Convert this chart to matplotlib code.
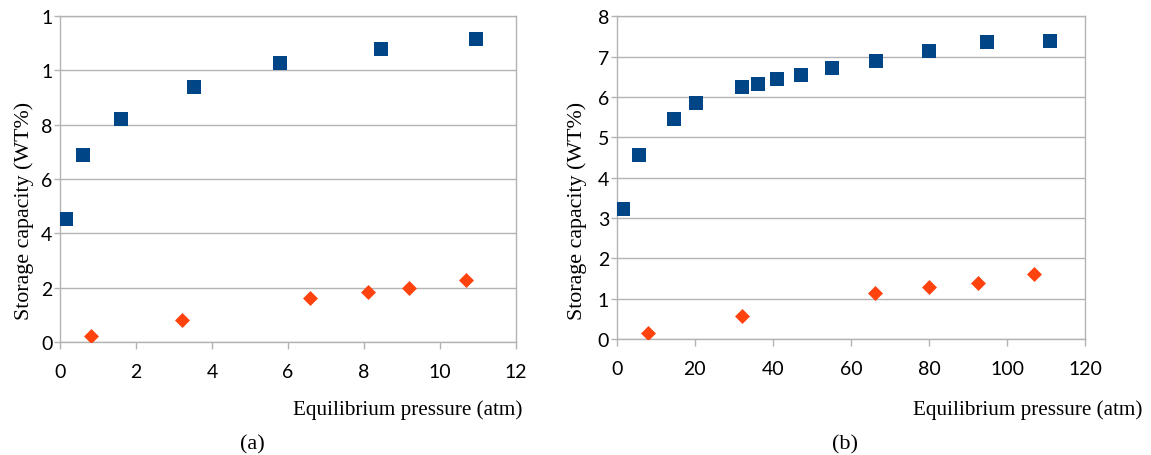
import matplotlib
matplotlib.use("Agg")
import matplotlib.pyplot as plt

# (a) storage capacity vs equilibrium pressure
a_blue_x = [0.16, 0.61, 1.61, 3.53, 5.80, 8.45, 10.96]
a_blue_y = [4.53, 6.88, 8.21, 9.40, 10.27, 10.78, 11.16]
a_red_x = [0.81, 3.22, 6.59, 8.11, 9.18, 10.68]
a_red_y = [0.22, 0.82, 1.63, 1.83, 1.97, 2.29]
a_xticks = [0, 2, 4, 6, 8, 10, 12]
a_yticks = [0, 2, 4, 6, 8, 10, 12]
a_ylabels = ["0", "2", "4", "6", "8", "1", "1"]   # truncated as in the original

# (b)
b_blue_x = [1.5, 5.6, 14.6, 20.4, 32.2, 36.3, 41.0, 47.1, 55.1, 66.5, 80.0, 94.8, 110.9]
b_blue_y = [3.22, 4.56, 5.45, 5.84, 6.26, 6.31, 6.45, 6.54, 6.72, 6.90, 7.15, 7.37, 7.40]
b_red_x = [8.0, 32.0, 66.2, 80.1, 92.4, 106.9]
b_red_y = [0.16, 0.58, 1.14, 1.29, 1.38, 1.61]
b_xticks = [0, 20, 40, 60, 80, 100, 120]
b_yticks = [0, 1, 2, 3, 4, 5, 6, 7, 8]

BLUE = "#004586"
RED = "#ff420e"
GRID = "#b3b3b3"
TICKFONT = "Lato"
SERIF = "Liberation Serif"

fig = plt.figure(figsize=(11.51, 4.56), dpi=100)


def style_axes(ax, xticks, yticks, ylabels=None):
    ax.set_xlim(xticks[0], xticks[-1])
    ax.set_ylim(yticks[0], yticks[-1])
    ax.set_xticks(xticks)
    ax.set_yticks(yticks)
    if ylabels is not None:
        ax.set_yticklabels(ylabels)
    ax.grid(axis="y", color=GRID, linewidth=1.0)
    ax.set_axisbelow(True)
    for s in ax.spines.values():
        s.set_color(GRID)
        s.set_linewidth(1.0)
    ax.tick_params(direction="out", width=1.0, color=GRID, labelsize=14)
    ax.tick_params(axis="x", length=5, pad=10)
    ax.tick_params(axis="y", length=4, pad=1.5)
    for lab in ax.get_xticklabels() + ax.get_yticklabels():
        lab.set_fontfamily(TICKFONT)


def draw(ax, bx, by, rx, ry):
    ax.scatter(bx, by, marker="s", s=115, color=BLUE, zorder=3, linewidths=0)
    ax.scatter(rx, ry, marker="D", s=58, color=RED, zorder=3, linewidths=0)


ax1 = fig.add_axes([0.0521, 0.2478, 0.3962, 0.7149])
draw(ax1, a_blue_x, a_blue_y, a_red_x, a_red_y)
style_axes(ax1, a_xticks, a_yticks, a_ylabels)

ax2 = fig.add_axes([0.5358, 0.2544, 0.4071, 0.7076])
draw(ax2, b_blue_x, b_blue_y, b_red_x, b_red_y)
style_axes(ax2, b_xticks, b_yticks)

# labels
for x in (24 / 1151, 577 / 1151):
    fig.text(x, 1 - 211 / 456, "Storage capacity (WT%)", rotation=90,
             ha="center", va="center", family=SERIF, fontsize=15.8)

fig.text(522 / 1151, 1 - 410 / 456, "Equilibrium pressure (atm)", ha="right",
         va="center", family=SERIF, fontsize=15.2)
fig.text(1142 / 1151, 1 - 410 / 456, "Equilibrium pressure (atm)", ha="right",
         va="center", family=SERIF, fontsize=15.2)

fig.text(252 / 1151, 1 - 445 / 456, "(a)", ha="center", va="center",
         family=SERIF, fontsize=16)
fig.text(845 / 1151, 1 - 445 / 456, "(b)", ha="center", va="center",
         family=SERIF, fontsize=16)

fig.savefig("out.png", dpi=100)
